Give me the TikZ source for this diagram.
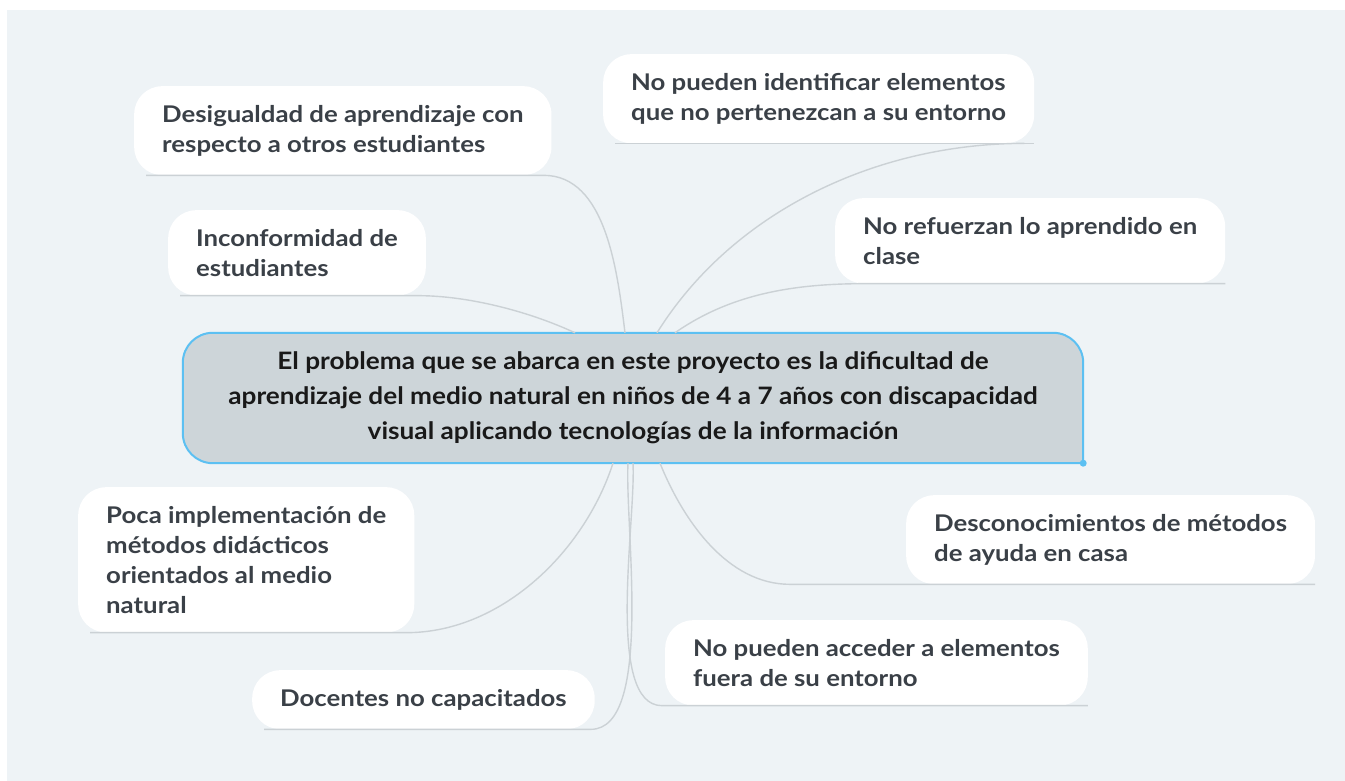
\documentclass[tikz,border=0pt]{standalone}
\usepackage{fontspec}
\setmainfont{Lato}
\newfontfamily\leaffont{Lato}[FakeStretch=1.12]
\newfontfamily\rootfont{Lato}[FakeStretch=1.09]
\usepackage{tikz}
\usetikzlibrary{positioning}

\definecolor{pagebg}{HTML}{EEF3F6}
\definecolor{rootfill}{HTML}{CDD5D9}
\definecolor{rootblue}{HTML}{5CC0F2}
\definecolor{branchgrey}{HTML}{CBD1D5}
\definecolor{leaftext}{HTML}{3A4047}

\tikzset{leaf/.style = {fill=white, rounded corners=28, inner xsep=28, inner ysep=19,
                        align=left, text=leaftext, anchor=north west,
                        font=\leaffont\fontsize{23}{30}\selectfont\bfseries}}
\tikzset{branch/.style = {draw=branchgrey, line width=1.4}}

\begin{document}
\begin{tikzpicture}[x=1pt, y=1pt]
      \useasboundingbox (0, 0) rectangle (1345, 781);
      \fill [pagebg] (7, 0) rectangle (1345, 771);

      % central topic
      \node [minimum width=900, minimum height=130, inner sep=0] (root) at (633, 383) {};
      \draw [fill=rootfill, draw=rootblue, line width=2]
            (root.south) [rounded corners=30] -- (root.south west) -- (root.north west)
            -- (root.north east) [sharp corners] -- (root.south east) -- cycle;
      \fill [rootblue] (root.south east) circle (3.5);
      \node [align=center, text=black!90, font=\rootfont\fontsize{24}{35}\selectfont\bfseries]
            (roottxt) at (root.center)
            {El problema que se abarca en este proyecto es la dificultad de\\
             aprendizaje del medio natural en niños de 4 a 7 años con discapacidad\\
             visual aplicando tecnologías de la información};

      % upper branches
      \node [leaf] (des)   at (134, 695) {Desigualdad de aprendizaje con\\respecto a otros estudiantes};
      \node [leaf] (inc)   at (168, 571) {Inconformidad de\\estudiantes};
      \node [leaf] (nopi)  at (603, 727) {No pueden identificar elementos\\que no pertenezcan a su entorno};
      \node [leaf] (noref) at (835, 583) {No refuerzan lo aprendido en\\clase};

      % lower branches
      \node [leaf] (poca)  at (78, 294)  {Poca implementación de\\métodos didácticos\\orientados al medio\\natural};
      \node [leaf] (doc)   at (252, 111) {Docentes no capacitados};
      \node [leaf] (desc)  at (906, 286) {Desconocimientos de métodos\\de ayuda en casa};
      \node [leaf] (noacc) at (665, 161) {No pueden acceder a elementos\\fuera de su entorno};

      \draw [branch] ([xshift=12]des.south west) -- ([xshift=-8]des.south east)
            to[out=0, in=97, looseness=0.9] ([xshift=-8]root.north);
      \draw [branch] ([xshift=12]inc.south west) -- ([xshift=-8]inc.south east)
            to[out=0, in=155, looseness=0.8] ([xshift=-58]root.north);
      \draw [branch] ([xshift=12]nopi.south west) -- (nopi.south east);
      \draw [branch] ([xshift=-10]nopi.south east)
            to[out=180, in=58, looseness=0.9] ([xshift=24]root.north);
      \draw [branch] (noref.south east) -- ([xshift=30]noref.south west)
            to[out=180, in=35, looseness=0.9] ([xshift=42]root.north);

      \draw [branch] ([xshift=12]poca.south west) -- ([xshift=-8]poca.south east)
            to[out=0, in=-108, looseness=0.9] ([xshift=-20]root.south);
      \draw [branch] ([xshift=12]doc.south west) -- ([xshift=-4]doc.south east)
            to[out=0, in=-93, looseness=0.6] ([xshift=-5]root.south);
      \draw [branch] (noacc.south east) -- ([xshift=-3]noacc.south west)
            to[out=180, in=-87, looseness=0.6] (root.south);
      \draw [branch] (desc.south east) -- ([xshift=-116]desc.south west)
            to[out=180, in=-68, looseness=0.9] ([xshift=27]root.south);
    \end{tikzpicture}
\end{document}
